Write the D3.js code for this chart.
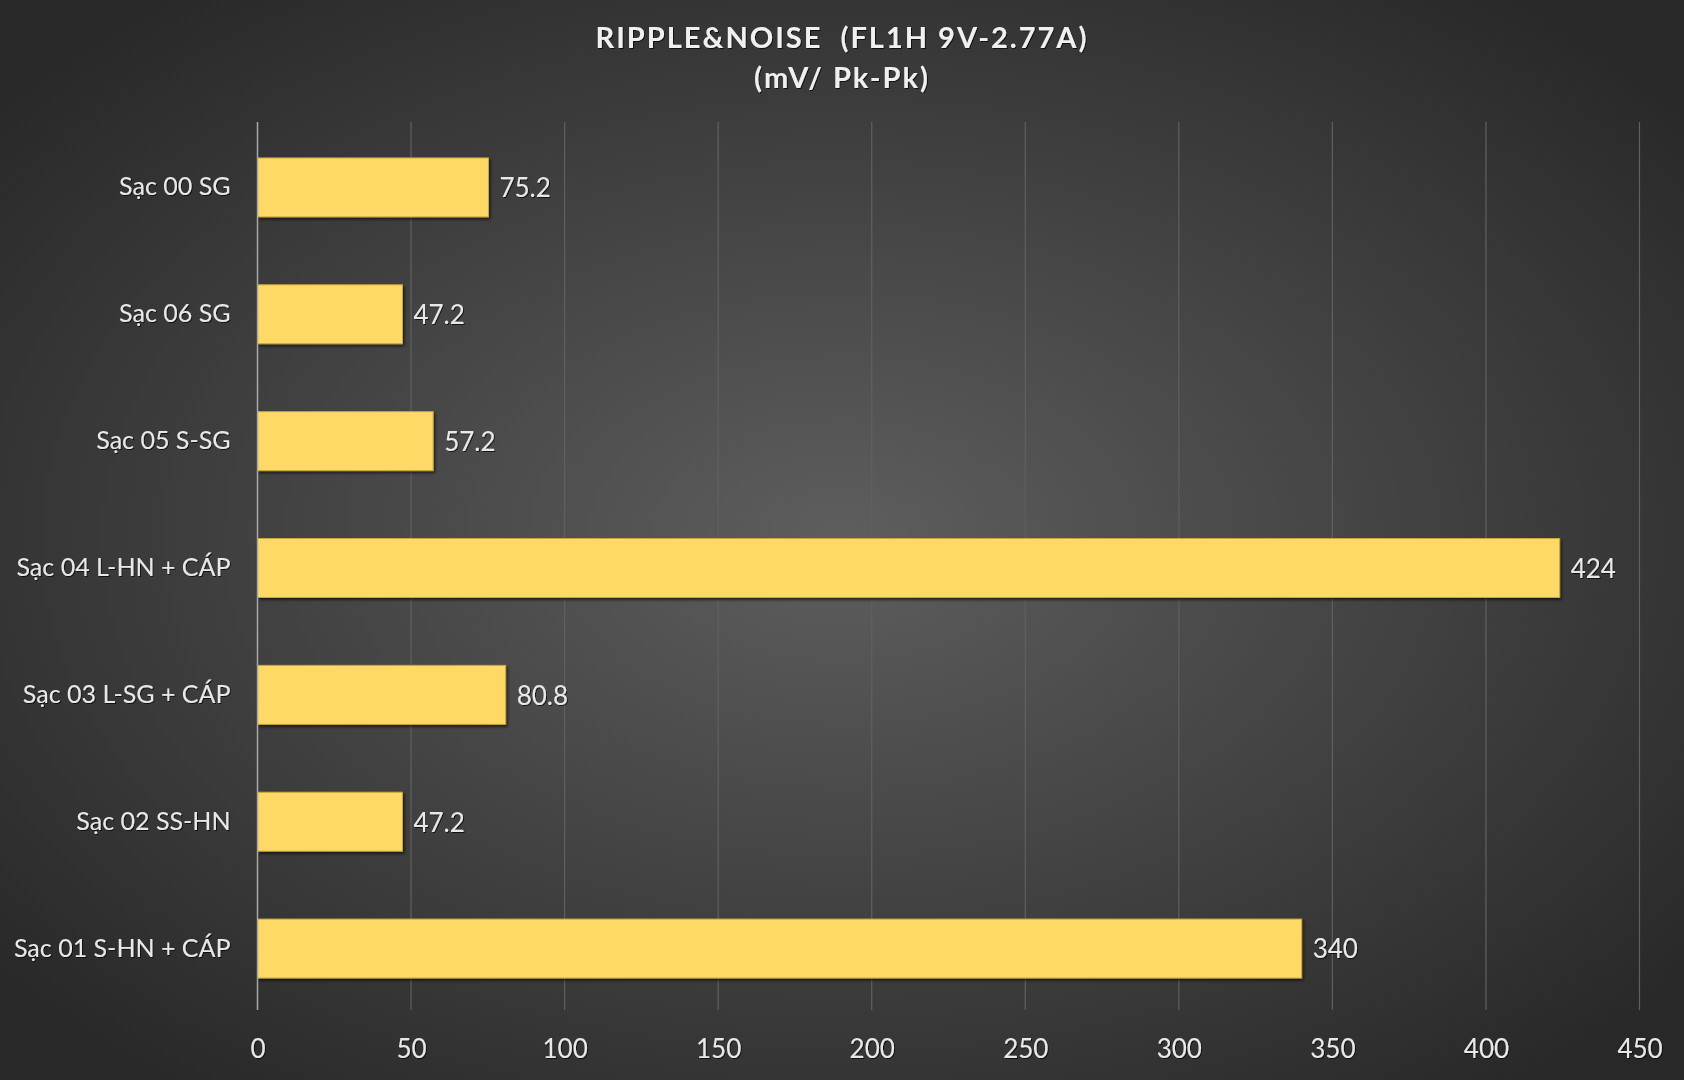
<!DOCTYPE html>
<html><head><meta charset="utf-8">
<script src="https://cdn.jsdelivr.net/npm/d3@7"></script>
<style>html,body{margin:0;padding:0;background:#2a2a2a;}svg{display:block;}</style>
</head><body>
<svg id="c" width="1684" height="1080"></svg>
<script>
const categories = ["Sạc 00 SG","Sạc 06 SG","Sạc 05 S-SG","Sạc 04 L-HN + CÁP","Sạc 03 L-SG + CÁP","Sạc 02 SS-HN","Sạc 01 S-HN + CÁP"];
const values = [75.2, 47.2, 57.2, 424, 80.8, 47.2, 340];
const valueLabels = ["75.2","47.2","57.2","424","80.8","47.2","340"];
const xTicks = [0,50,100,150,200,250,300,350,400,450];
const titleLines = ["RIPPLE&NOISE  (FL1H 9V-2.77A)", "(mV/ Pk-Pk)"];

const W=1684,H=1080;
const svg=d3.select("#c");
const defs=svg.append("defs");
const rg=defs.append("radialGradient").attr("id","bg").attr("cx","50%").attr("cy","50%").attr("r","65%");
rg.append("stop").attr("offset","0%").attr("stop-color","#5e5e5e");
rg.append("stop").attr("offset","100%").attr("stop-color","#282828");
svg.append("rect").attr("width",W).attr("height",H).attr("fill","url(#bg)");
const f=defs.append("filter").attr("id","sh").attr("x","-5%").attr("y","-20%").attr("width","110%").attr("height","150%");
f.append("feDropShadow").attr("dx",1.5).attr("dy",2).attr("stdDeviation",1.5).attr("flood-color","#000").attr("flood-opacity",0.6);
const ft=defs.append("filter").attr("id","tsh").attr("x","-5%").attr("y","-20%").attr("width","110%").attr("height","150%");
ft.append("feDropShadow").attr("dx",1).attr("dy",1).attr("stdDeviation",0.6).attr("flood-color","#000").attr("flood-opacity",0.7);

const x=d3.scaleLinear().domain([0,450]).range([257.5,1639.5]);
const y=d3.scaleBand().domain(categories).range([124,1012]).paddingInner(0.535).paddingOuter(0.2675);
const font="Lato, 'Open Sans', sans-serif";

// gridlines
svg.append("g").selectAll("line").data(xTicks.slice(1)).join("line")
  .attr("x1",d=>x(d)).attr("x2",d=>x(d)).attr("y1",122).attr("y2",1010)
  .attr("stroke","#606060").attr("stroke-width",1.2);

// x axis labels
const xa=svg.append("g").attr("transform","translate(0,1010)")
  .call(d3.axisBottom(x).tickValues(xTicks).tickSize(0).tickPadding(30));
xa.select(".domain").remove();
xa.selectAll("text").attr("fill","#e8e8e8").attr("font-size",26).attr("font-family",font).attr("filter","url(#tsh)");

// y axis
const ya=svg.append("g").attr("transform","translate(257.5,0)")
  .call(d3.axisLeft(y).tickSize(0).tickPadding(27));
ya.select(".domain").remove();
ya.selectAll("text").attr("fill","#e8e8e8").attr("font-size",25).attr("font-family",font).attr("filter","url(#tsh)");

// bars
svg.append("g").selectAll("rect").data(categories).join("rect")
  .attr("x",x(0)).attr("y",d=>y(d)).attr("width",(d,i)=>x(values[i])-x(0)).attr("height",y.bandwidth())
  .attr("fill","#ffd966").attr("stroke","#c9a83a").attr("stroke-width",1).attr("filter","url(#sh)");

// axis line
svg.append("line").attr("x1",257.5).attr("x2",257.5).attr("y1",122).attr("y2",1010)
  .attr("stroke","#a8a8a8").attr("stroke-width",1.5);

// value labels
svg.append("g").selectAll("text").data(categories).join("text")
  .attr("x",(d,i)=>x(values[i])+11).attr("y",d=>y(d)+y.bandwidth()/2).attr("dy","0.38em")
  .attr("fill","#e8e8e8").attr("font-size",26).attr("font-family",font).attr("filter","url(#tsh)")
  .text((d,i)=>valueLabels[i]);

// title
svg.append("g").selectAll("text").data(titleLines).join("text")
  .attr("x",842).attr("y",(d,i)=>48+i*40).attr("text-anchor","middle")
  .attr("fill","#f0f0f0").attr("font-size",29).attr("font-weight","bold").attr("font-family",font)
  .attr("letter-spacing",2).attr("xml:space","preserve").style("white-space","pre").attr("filter","url(#tsh)")
  .text(d=>d);
</script>
</body></html>
